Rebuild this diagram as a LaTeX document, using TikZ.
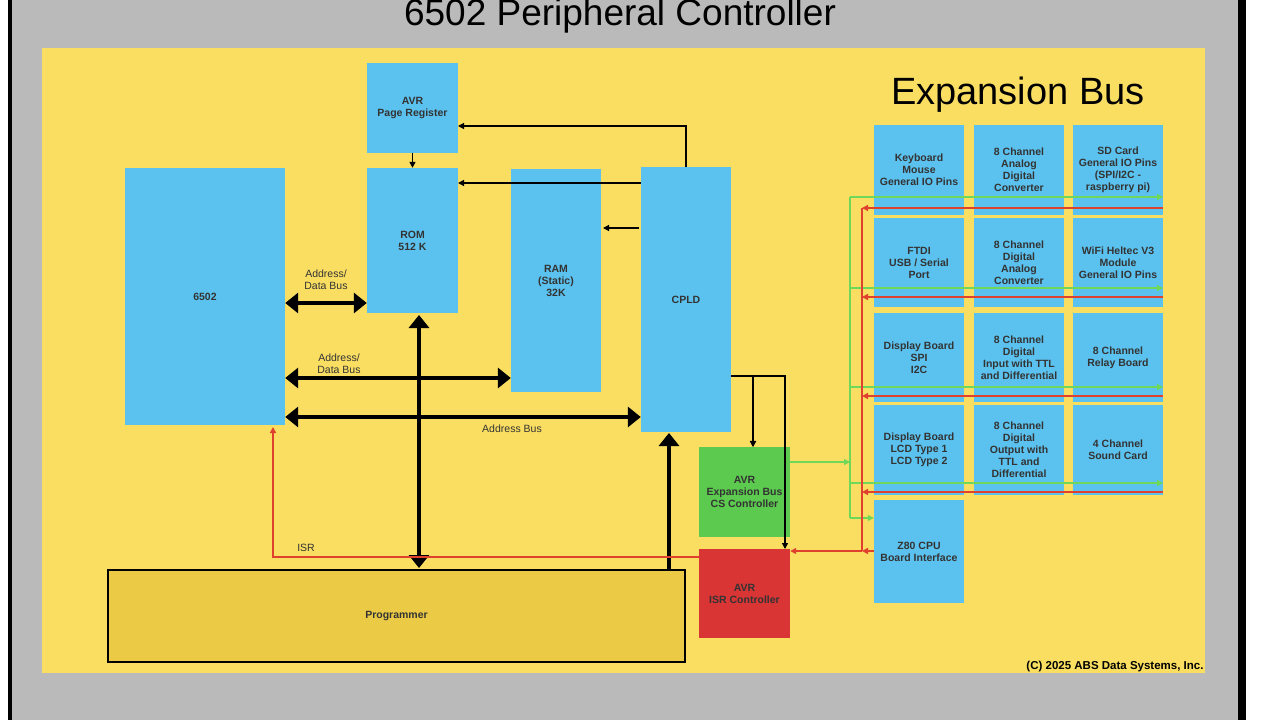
\documentclass[tikz,border=0pt]{standalone}
\usepackage{fontspec}
\setmainfont{Liberation Sans}
\usetikzlibrary{arrows.meta}
\definecolor{panel}{HTML}{F9DE62}
\definecolor{blk}{HTML}{5BC2EF}
\definecolor{grn}{HTML}{5CC94F}
\definecolor{rd}{HTML}{D93535}
\definecolor{prog}{HTML}{EBCB45}
\definecolor{lgrn}{HTML}{6FD85A}
\definecolor{lred}{HTML}{E0402E}
\begin{document}
\begin{tikzpicture}[x=1pt,y=-1pt,
  lbl/.style={font=\fontsize{10.5}{12}\selectfont\bfseries, align=center, text=black!80},
  thin/.style={draw=black, line width=1.3pt, -{Triangle[length=6pt,width=6pt]}},
  thick/.style={draw=black, line width=4.5pt, {Triangle[length=13pt,width=20pt]}-{Triangle[length=13pt,width=20pt]}},
  thickone/.style={draw=black, line width=4.5pt, -{Triangle[length=13pt,width=20pt]}},
  garr/.style={draw=lgrn, line width=1.3pt, -{Triangle[length=6pt,width=6pt]}},
  rarr/.style={draw=lred, line width=1.5pt, -{Triangle[length=6pt,width=6pt]}}]
\useasboundingbox (0,0) rectangle (1280,720);
\fill[white] (0,0) rectangle (1280,720);
\fill[black!27] (10,0) rectangle (1240,720);
\fill[black] (8,0) rectangle (12,720);
\fill[black] (1238,0) rectangle (1246,720);
\node[font=\fontsize{37}{40}\selectfont] (title) at (620,16) {6502 Peripheral Controller};
\fill[panel] (42,48) rectangle (1205,673);
\node[font=\fontsize{38}{40}\selectfont] (eb) at (1018,95) {Expansion Bus};
% blocks
\def\blk#1#2#3#4#5#6#7{\node[fill=#6, minimum width=#3-#1, minimum height=#4-#2, inner sep=0, lbl] (#5) at ({(#1+#3)/2},{(#2+#4)/2}) {#7};}
\blk{367}{63}{458}{153}{page}{blk}{AVR\\Page Register}
\blk{367}{168}{458}{313}{rom}{blk}{ROM\\512 K}
\blk{125}{168}{285}{425}{cpu}{blk}{6502}
\blk{511}{169}{601}{392}{ram}{blk}{RAM\\(Static)\\32K}
\blk{641}{167}{731}{432}{cpld}{blk}{CPLD}
\blk{699}{447}{790}{537}{cs}{grn}{AVR\\Expansion Bus\\CS Controller}
\blk{699}{549}{790}{638}{isr}{rd}{AVR\\ISR Controller}
\node[fill=prog, draw=black, line width=2pt, minimum width=577, minimum height=92, inner sep=0, lbl] (prg) at (396.5,616) {Programmer};
\blk{874}{125}{964}{215}{e11}{blk}{Keyboard\\Mouse\\General IO Pins}
\blk{974}{125}{1064}{215}{e12}{blk}{8 Channel\\Analog\\Digital\\Converter}
\blk{1073}{125}{1163}{215}{e13}{blk}{SD Card\\General IO Pins\\(SPI/I2C -\\raspberry pi)}
\blk{874}{218}{964}{307}{e21}{blk}{FTDI\\USB / Serial\\Port}
\blk{974}{218}{1064}{307}{e22}{blk}{8 Channel\\Digital\\Analog\\Converter}
\blk{1073}{218}{1163}{307}{e23}{blk}{WiFi Heltec V3\\Module\\General IO Pins}
\blk{874}{313}{964}{402}{e31}{blk}{Display Board\\SPI\\I2C}
\blk{974}{313}{1064}{402}{e32}{blk}{8 Channel\\Digital\\Input with TTL\\and Differential}
\blk{1073}{313}{1163}{402}{e33}{blk}{8 Channel\\Relay Board}
\blk{874}{405}{964}{495}{e41}{blk}{Display Board\\LCD Type 1\\LCD Type 2}
\blk{974}{405}{1064}{495}{e42}{blk}{8 Channel\\Digital\\Output with\\TTL and\\Differential}
\blk{1073}{405}{1163}{495}{e43}{blk}{4 Channel\\Sound Card}
\blk{874}{500}{964}{603}{z80}{blk}{Z80 CPU\\Board Interface}
% thin black connectors
\draw[thin] (cpld.north) |- (458,126);
\draw[thin] (page.south) -- (rom.north);
\draw[thin] (cpld.west |- 0,183) -- (458,183);
\draw[thin] (639,228) -- (603,228);
\draw[thin] (731,376) -| (cs.north -| 753,0);
\draw[thin] (753,376) -- (753,447);
\draw[thin] (753,376) -| (785,549);
% thick buses
\draw[thick] (cpu.east |- 0,303) -- (rom.west |- 0,303);
\draw[thick] (cpu.east |- 0,378) -- (ram.west |- 0,378);
\draw[thick] (cpu.east |- 0,417) -- (cpld.west |- 0,417);
\draw[thick] (419,315) -- (419,568);
\draw[thickone] (669,570) -- (669,433);
\node[lbl, font=\fontsize{10.5}{12}\selectfont] (l1) at (326,280) {Address/\\Data Bus};
\node[lbl, font=\fontsize{10.5}{12}\selectfont] (l2) at (339,364) {Address/\\Data Bus};
\node[lbl, font=\fontsize{10.5}{12}\selectfont] (l3) at (512,429) {Address Bus};
% green
\draw[garr] (cs.east |- 0,462) -- (850,462);
\draw[draw=lgrn, line width=1.3pt] (850,197) -- (850,518);
\foreach \y in {197,288,387,483} \draw[garr] (850,\y) -- (1163,\y);
\draw[garr] (850,518) -- (z80.west |- 0,518);
% red
\foreach \y in {208,297,396,492} \draw[rarr] (1163,\y) -- (862,\y);
\draw[draw=lred, line width=1.5pt] (862,208) -- (862,551);
\draw[rarr] (z80.west |- 0,551) -- (862,551);
\draw[rarr] (862,551) -- (isr.east |- 0,551);
\draw[rarr] (isr.west |- 0,557) -| (273,427);
\node[lbl, font=\fontsize{10.5}{12}\selectfont] (isrl) at (306,548) {ISR};
\node[font=\fontsize{11.5}{12}\selectfont\bfseries] (cr) at (1115,667) {(C) 2025 ABS Data Systems, Inc.};
\end{tikzpicture}
\end{document}
